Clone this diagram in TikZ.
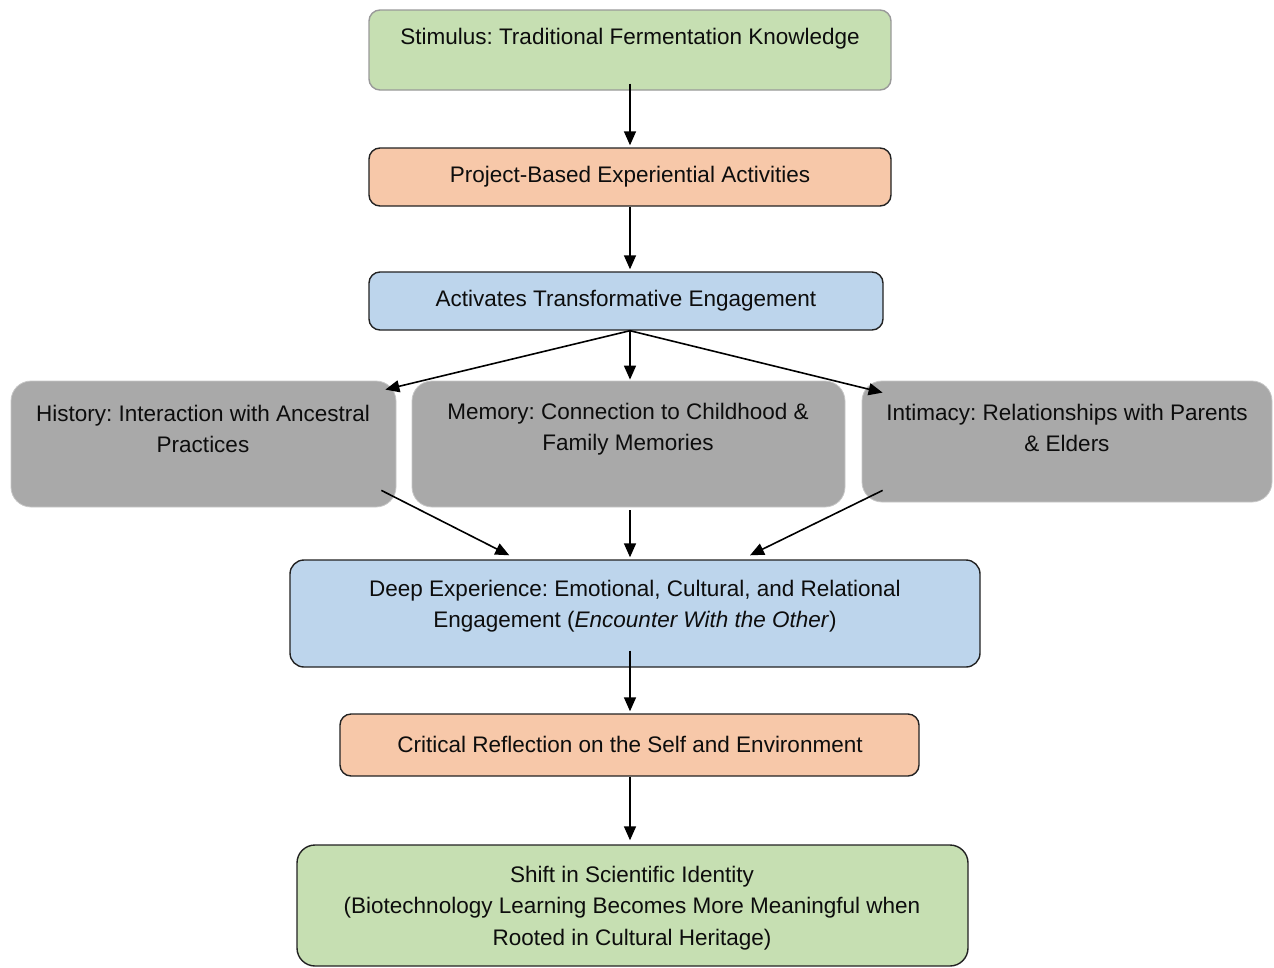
\documentclass[tikz,border=0pt]{standalone}
\usepackage{fontspec}
\setmainfont{Liberation Sans}
\usetikzlibrary{arrows.meta,calc}
\definecolor{boxgreen}{HTML}{C6DFB2}
\definecolor{boxorange}{HTML}{F7C8A9}
\definecolor{boxblue}{HTML}{BDD5EC}
\definecolor{boxgray}{HTML}{A9A9A9}
\definecolor{edgedark}{HTML}{222222}
\frenchspacing
\begin{document}
\begin{tikzpicture}[x=1pt,y=-1pt,
 box/.style={draw=edgedark, line width=1.4pt, rounded corners=11pt, inner sep=0pt},
 gbox/.style={draw=black!22, line width=0.8pt, fill=boxgray, rounded corners=20pt, inner sep=0pt},
 lbl/.style={align=center, font=\fontsize{22.5}{31.5}\selectfont, text=black!95, inner sep=0pt},
 arr/.style={-{Triangle[length=14pt,width=12pt]}, line width=1.6pt, draw=black}]
\useasboundingbox (0,0) rectangle (1274,967);
% boxes
\node[box, draw=black!40, fill=boxgreen, minimum width=522pt, minimum height=80pt] (stim) at (630,50) {};
\node[box, fill=boxorange, minimum width=522pt, minimum height=58pt] (proj) at (630,177) {};
\node[box, fill=boxblue, minimum width=514pt, minimum height=58pt] (act) at (626,301) {};
\node[gbox, minimum width=385pt, minimum height=126pt] (hist) at (203.5,444) {};
\node[gbox, minimum width=433pt, minimum height=126pt] (mem) at (628.5,444) {};
\node[gbox, minimum width=410pt, minimum height=121pt] (inti) at (1067,441.5) {};
\node[box, fill=boxblue, rounded corners=14pt, minimum width=690pt, minimum height=107pt] (deep) at (635,613.5) {};
\node[box, fill=boxorange, minimum width=579pt, minimum height=62pt] (crit) at (629.5,745) {};
\node[box, fill=boxgreen, rounded corners=18pt, minimum width=671pt, minimum height=121pt] (shift) at (632.5,905.5) {};
% labels
\node[lbl] (tstim) at (630,39) {Stimulus: Traditional Fermentation Knowledge};
\node[lbl] (tproj) at (630,177) {Project-Based Experiential Activities};
\node[lbl] (tact) at (626,301) {Activates Transformative Engagement};
\node[lbl] (thist) at (203,429) {History: Interaction with Ancestral\\Practices};
\node[lbl] (tmem) at (628,429) {Memory: Connection to Childhood \&\\Family Memories};
\node[lbl] (tinti) at (1067,428) {Intimacy: Relationships with Parents\\\& Elders};
\node[lbl] (tdeep) at (635,606) {Deep Experience: Emotional, Cultural, and Relational\\Engagement (\textit{Encounter With the Other})};
\node[lbl] (tcrit) at (630,744) {Critical Reflection on the Self and Environment};
\node[lbl] (tshift) at (632,908) {Shift in Scientific Identity\\(Biotechnology Learning Becomes More Meaningful when\\Rooted in Cultural Heritage)};
% connectors
\draw[arr] ($(stim.south)+(0,-7)$) -- ($(proj.north)+(0,-2)$);
\draw[arr] (proj.south) -- ($(act.north)+(4,-2)$);
\draw[arr] ($(act.south)+(4,0)$) -- ($(hist.north east)+(-11,9)$);
\draw[arr] ($(act.south)+(4,0)$) -- ($(mem.north)+(1.5,-1)$);
\draw[arr] ($(act.south)+(4,0)$) -- ($(inti.north west)+(21,12)$);
\draw[arr] ($(hist.south east)+(-15,-17)$) -- ($(deep.north west)+(220,-4)$);
\draw[arr] ($(mem.south)+(1.5,3)$) -- ($(deep.north)+(-5,-2)$);
\draw[arr] ($(inti.south west)+(21,-12)$) -- ($(deep.north)+(115,-4)$);
\draw[arr] ($(deep.south)+(-5,-17)$) -- ($(crit.north)+(0.5,-2)$);
\draw[arr] ($(crit.south)+(0.5,0)$) -- ($(shift.north)+(-2.5,-4)$);
\end{tikzpicture}
\end{document}
